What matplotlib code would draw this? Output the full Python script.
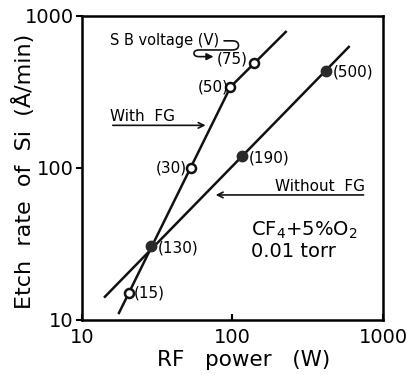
import matplotlib
matplotlib.use('Agg')
import matplotlib.pyplot as plt
from matplotlib.path import Path
from matplotlib.patches import FancyArrowPatch

# with FG: data points (open circles) and S.B. voltage labels
fg_power = [20.6, 53, 97, 140]
fg_rate = [15, 100, 341, 490]
fg_sb = ['(15)', '(30)', '(50)', '(75)']
# with FG fitted line (kink at 50 V point)
fg_line_power = [17.6, 97, 226]
fg_line_rate = [11.1, 341, 785]

# without FG: data points (filled circles)
nofg_power = [28.8, 115, 417]
nofg_rate = [30.5, 119, 435]
nofg_sb = ['(130)', '(190)', '(500)']
nofg_line_power = [14.2, 593]
nofg_line_rate = [14.2, 625]

ticks = [10, 100, 1000]
tick_labels = ['10', '100', '1000']

plt.rcParams['font.family'] = ['DejaVu Sans']

fig = plt.figure(figsize=(4.10, 3.79), dpi=100)
ax = fig.add_axes([0.2, 0.156, 0.734, 0.802])
ax.set_xscale('log')
ax.set_yscale('log')
ax.set_xlim(10, 1000)
ax.set_ylim(10, 1000)

ax.plot(fg_line_power, fg_line_rate, color='#111111', lw=1.8)
ax.plot(nofg_line_power, nofg_line_rate, color='#111111', lw=1.8)
ax.plot(fg_power, fg_rate, 'o', ms=6.5, mfc='white', mec='#111111', mew=1.8)
ax.plot(nofg_power, nofg_rate, 'o', ms=7.5, color='#2a2a2a')

# point labels
fs = 11
offs_fg = [(3, 0, 'left'), (-3, 0, 'right'), (-1, 0, 'right'), (-5, 3, 'right')]
for p, r, s, (dx, dy, ha) in zip(fg_power, fg_rate, fg_sb, offs_fg):
    ax.annotate(s, (p, r), xytext=(dx, dy), textcoords='offset points',
                ha=ha, va='center', fontsize=fs)
for p, r, s in zip(nofg_power, nofg_rate, nofg_sb):
    ax.annotate(s, (p, r), xytext=(5, -1), textcoords='offset points',
                ha='left', va='center', fontsize=fs)

# S B voltage label with curled arrow
ax.text(0.093, 0.918, 'S B voltage (V)', transform=ax.transAxes, fontsize=10.5,
        ha='left', va='center')
verts = [(0.472, 0.918), (0.5, 0.918),
         (0.52, 0.918), (0.52, 0.903),
         (0.52, 0.888), (0.5, 0.888),
         (0.39, 0.888),
         (0.372, 0.888), (0.372, 0.877),
         (0.372, 0.866), (0.39, 0.866),
         (0.437, 0.866)]
codes = [Path.MOVETO, Path.LINETO,
         Path.CURVE3, Path.CURVE3,
         Path.CURVE3, Path.CURVE3,
         Path.LINETO,
         Path.CURVE3, Path.CURVE3,
         Path.CURVE3, Path.CURVE3,
         Path.LINETO]
ax.add_patch(FancyArrowPatch(path=Path(verts, codes), transform=ax.transAxes,
                             arrowstyle='-|>,head_length=4,head_width=2',
                             shrinkA=0, shrinkB=0, color='#111111', lw=1.2))

# With FG label + arrow
ax.text(0.093, 0.655, 'With  FG', transform=ax.transAxes, fontsize=fs,
        ha='left', va='baseline')
ax.annotate('', xy=(0.42, 0.64), xytext=(0.093, 0.64), xycoords='axes fraction',
            arrowprops=dict(arrowstyle='->', color='#111111', lw=1.2))

# Without FG label + arrow
ax.text(0.94, 0.425, 'Without  FG', transform=ax.transAxes, fontsize=fs,
        ha='right', va='baseline')
ax.annotate('', xy=(0.435, 0.411), xytext=(0.945, 0.411), xycoords='axes fraction',
            arrowprops=dict(arrowstyle='->', color='#111111', lw=1.2))

ax.text(0.56, 0.262, 'CF$_4$+5%O$_2$\n0.01 torr', transform=ax.transAxes,
        fontsize=14, ha='left', va='center', linespacing=1.1)

for sp in ax.spines.values():
    sp.set_linewidth(1.8)
ax.minorticks_off()
ax.tick_params(axis='both', which='major', labelsize=14, width=1.5, length=4, pad=2)
ax.tick_params(axis='x', direction='in', pad=6)
ax.set_xticks(ticks, tick_labels)
ax.set_yticks(ticks, tick_labels)
ax.set_xlabel('RF   power   (W)', fontsize=15.5)
ax.set_ylabel('Etch  rate  of  Si  (Å/min)', fontsize=16)
ax.xaxis.set_label_coords(0.538, -0.10)
ax.yaxis.set_label_coords(-0.155, 0.487)

fig.savefig('out.png', dpi=100)
